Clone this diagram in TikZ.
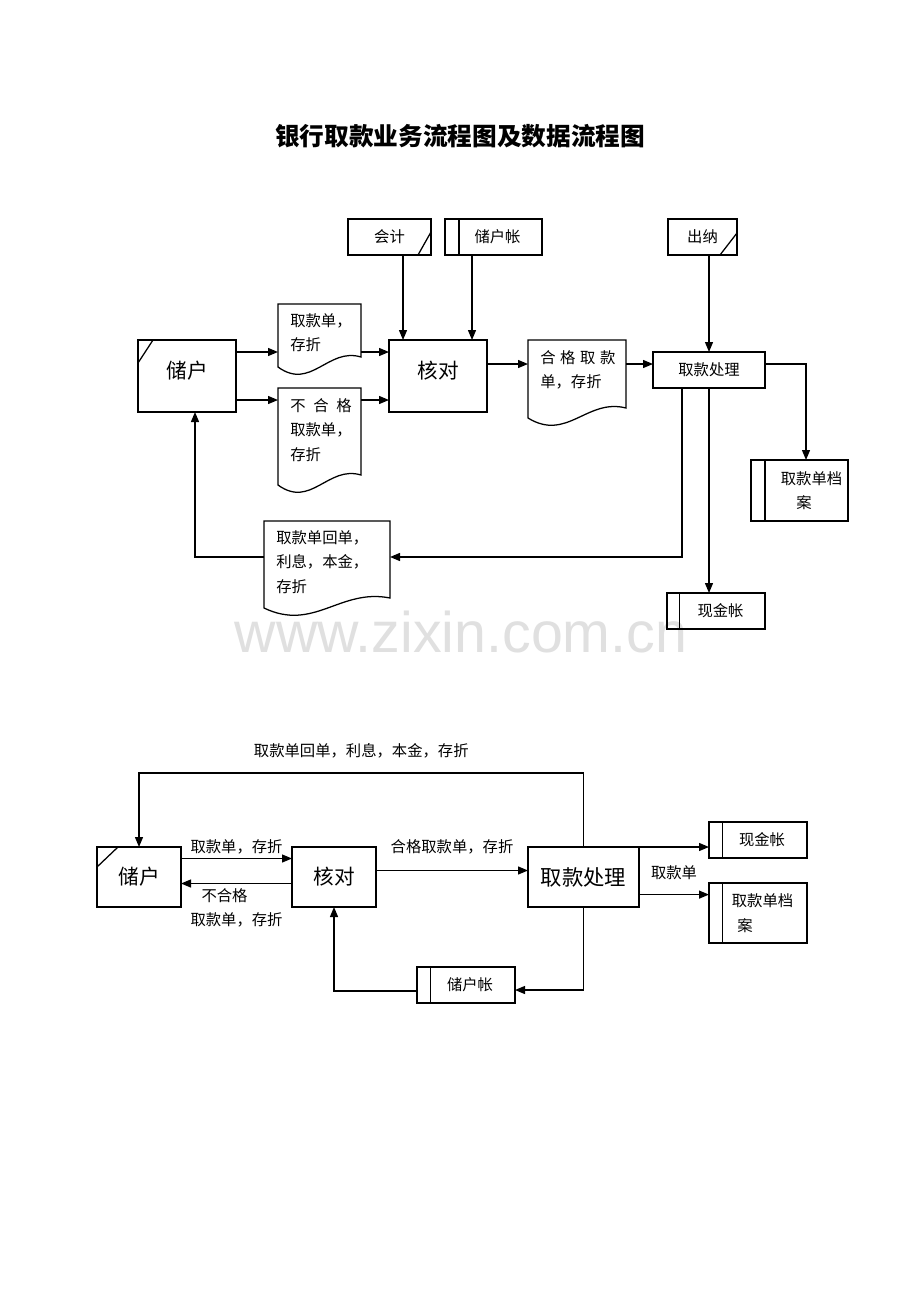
\documentclass[tikz,border=0pt]{standalone}
\usepackage{fontspec}
\setmainfont{Noto Sans CJK SC}
\newfontfamily\wmfont{Liberation Sans}
\usetikzlibrary{calc,arrows.meta}
\newcommand\wavedoc[2]{\draw[ln] (#1.north west) -- (#1.north east) -- (#1.south east) .. controls +(-#2,-10) and +(#2,24) .. ($(#1.south west)+(0,10)$) -- cycle;}
\tikzset{
 ln/.style={line width=0.95pt},
 arr/.style={ln, -{Triangle[length=7.5pt,width=6pt]}},
 sz/.style 2 args={minimum width={#1*0.75pt}, minimum height={#2*0.75pt}},
 bx/.style={draw, ln, rectangle, inner sep=0pt, outer sep=0pt},
 shp/.style={rectangle, inner sep=0pt, outer sep=0pt},
 sm/.style={font=\fontsize{11.5}{18.5}\selectfont},
 big/.style={font=\fontsize{15.5}{18}\selectfont, text height=13pt, text depth=10pt},
 bigc/.style={font=\fontsize{15.5}{18}\selectfont},
 txt/.style={sm, anchor=north west, align=left, inner sep=0pt},
 lab/.style={sm, inner sep=0pt},
}
\begin{document}
\begin{tikzpicture}[x=0.75pt,y=-0.75pt]
\useasboundingbox[fill=white] (0,0) rectangle (920,1302);
% watermark
\node[font=\wmfont\fontsize{43}{43}\selectfont, text=black!12] (wm) at (461,632) {www.zixin.com.cn};
% title
\node[font=\fontsize{18.5}{22}\bfseries\selectfont] (title) at (460,136) {银行取款业务流程图及数据流程图};

% ===== top: business flow =====
\node[bx, big, sz={98}{72}] (chuhu1) at (187,376) {储户};
\draw[ln] ($(chuhu1.north west)+(0,23)$) -- ($(chuhu1.north west)+(15,0)$);
\node[bx, big, sz={98}{72}] (hd1) at (438,376) {核对};
\node[bx, sm, sz={83}{36}] (kj) at (389.5,237) {会计};
\draw[ln] ($(kj.south east)+(-13,0)$) -- ($(kj.south east)+(0,-23)$);
\node[bx, sm, sz={97}{36}] (cz1) at (493.5,237) {\hspace*{6pt}储户帐};
\draw[ln] ($(cz1.north west)+(14,0)$) -- ($(cz1.south west)+(14,0)$);
\node[bx, sm, sz={69}{36}] (cn) at (702.5,237) {出纳};
\draw[ln] ($(cn.south east)+(-17,0)$) -- ($(cn.south east)+(0,-22)$);
\node[bx, sm, sz={112}{36}] (qc1) at (709,370) {取款处理};
\node[bx, sm, sz={97}{61}, align=center] (ar1) at (799.5,490.5) {\hspace*{18pt}取款单档\\\hspace*{6.8pt}案};
\draw[ln] ($(ar1.north west)+(14,0)$) -- ($(ar1.south west)+(14,0)$);
\node[bx, sm, sz={98}{36}] (xj1) at (716,611) {\hspace*{6.8pt}现金帐};
\draw[ln] ($(xj1.north west)+(12.5,0)$) -- ($(xj1.south west)+(12.5,0)$);

% documents
\node[shp, sz={83}{53}] (d1) at (319.5,330.5) {};
\wavedoc{d1}{33}
\node[txt] (d1t) at (290,313) {取款单，\\存折};
\node[shp, sz={83}{87}] (d2) at (319.5,431.5) {};
\wavedoc{d2}{33}
\node[txt] (d2t) at (290,398) {\makebox[4em][s]{不\hfill 合\hfill 格}\\取款单，\\存折};
\node[shp, sz={98}{68}] (hg) at (577,374) {};
\wavedoc{hg}{39}
\node[txt] (hgt) at (540,350) {\makebox[4.9em][s]{合\hfill 格\hfill 取\hfill 款}\\单，存折};
\node[shp, sz={126}{77}] (rd) at (327,559.5) {};
\wavedoc{rd}{50}
\node[txt] (rdt) at (276,530) {取款单回单，\\利息，本金，\\存折};

% connectors (top)
\coordinate (r1) at ($(chuhu1.north east)+(0,12)$);
\coordinate (r2) at ($(chuhu1.north east)+(0,60)$);
\draw[arr] (r1) -- (r1 -| d1.west);
\draw[arr] (r1 -| d1.east) -- (r1 -| hd1.west);
\draw[arr] (r2) -- (r2 -| d2.west);
\draw[arr] (r2 -| d2.east) -- (r2 -| hd1.west);
\coordinate (k1) at ($(kj.south)+(13.5,0)$);
\draw[arr] (k1) -- (k1 |- hd1.north);
\coordinate (k2) at ($(cz1.south)+(-21.5,0)$);
\draw[arr] (k2) -- (k2 |- hd1.north);
\coordinate (r3) at ($(hd1.north east)+(0,24)$);
\draw[arr] (r3) -- (r3 -| hg.west);
\draw[arr] (r3 -| hg.east) -- (r3 -| qc1.west);
\draw[arr] (qc1.north |- cn.south) -- (qc1.north);
\coordinate (r4) at ($(qc1.north east)+(0,12)$);
\coordinate (a1) at ($(ar1.north)+(6.5,0)$);
\draw[arr] (r4) -| (a1);
\draw[arr] (qc1.south) -- (qc1.south |- xj1.north);
\coordinate (q2) at ($(qc1.south west)+(29,0)$);
\coordinate (r5) at ($(rd.north east)+(0,36)$);
\draw[arr] (q2) |- (r5);
\coordinate (c2) at ($(chuhu1.south)+(8,0)$);
\draw[arr] (r5 -| rd.west) -| (c2);

% ===== bottom: data flow =====
\node[bx, bigc, sz={84}{60}] (chuhu2) at (139,877) {储户};
\draw[ln] ($(chuhu2.north west)+(0,20)$) -- ($(chuhu2.north west)+(21,0)$);
\node[bx, bigc, sz={84}{60}] (hd2) at (334,877) {核对};
\node[bx, font=\fontsize{16}{18}\selectfont, sz={111}{60}] (qc2) at (583.5,877) {取款处理};
\node[bx, sm, sz={98}{36}] (xj2) at (758,840) {\hspace*{6pt}现金帐};
\draw[ln] ($(xj2.north west)+(13.7,0)$) -- ($(xj2.south west)+(13.7,0)$);
\node[bx, sm, sz={98}{60}, align=center] (ar2) at (758,913) {\hspace*{6.8pt}取款单档\\案\hspace*{19.5pt}};
\draw[ln] ($(ar2.north west)+(13.7,0)$) -- ($(ar2.south west)+(13.7,0)$);
\node[bx, sm, sz={98}{36}] (cz2) at (466,985) {\hspace*{6pt}储户帐};
\draw[ln] ($(cz2.north west)+(13.7,0)$) -- ($(cz2.south west)+(13.7,0)$);

\coordinate (s1) at ($(chuhu2.north east)+(0,11.5)$);
\draw[arr] (s1) -- node[lab, midway, above=2.5pt] (l1) {取款单，存折} (s1 -| hd2.west);
\coordinate (s2) at ($(hd2.north west)+(0,36.5)$);
\draw[arr] (s2) -- node[lab, midway, below=3pt, align=center] (l2) {不合格\hspace*{18pt}\\取款单，存折} (s2 -| chuhu2.east);
\coordinate (s3) at ($(hd2.north east)+(0,23.5)$);
\draw[arr] (s3) -- node[lab, midway, above=11.5pt] (l3) {合格取款单，存折} (s3 -| qc2.west);
\coordinate (t1) at ($(qc2.north)+(0,-74)$);
\draw[arr] (qc2.north) -- (t1) -- node[lab, midway, above=11pt] (l4) {取款单回单，利息，本金，存折} (t1 -| chuhu2.north) -- (chuhu2.north);
\draw[arr] (qc2.north east) -- (qc2.north east -| xj2.west);
\coordinate (u2) at ($(qc2.north east)+(0,47.6)$);
\draw[arr] (u2) -- node[lab, midway, above=10.8pt] (l5) {取款单} (u2 -| ar2.west);
\coordinate (v1) at ($(cz2.east)+(0,5)$);
\draw[arr] (qc2.south) |- (v1);
\coordinate (v2) at ($(cz2.west)+(0,6)$);
\draw[arr] (v2) -| (hd2.south);
\end{tikzpicture}
\end{document}
